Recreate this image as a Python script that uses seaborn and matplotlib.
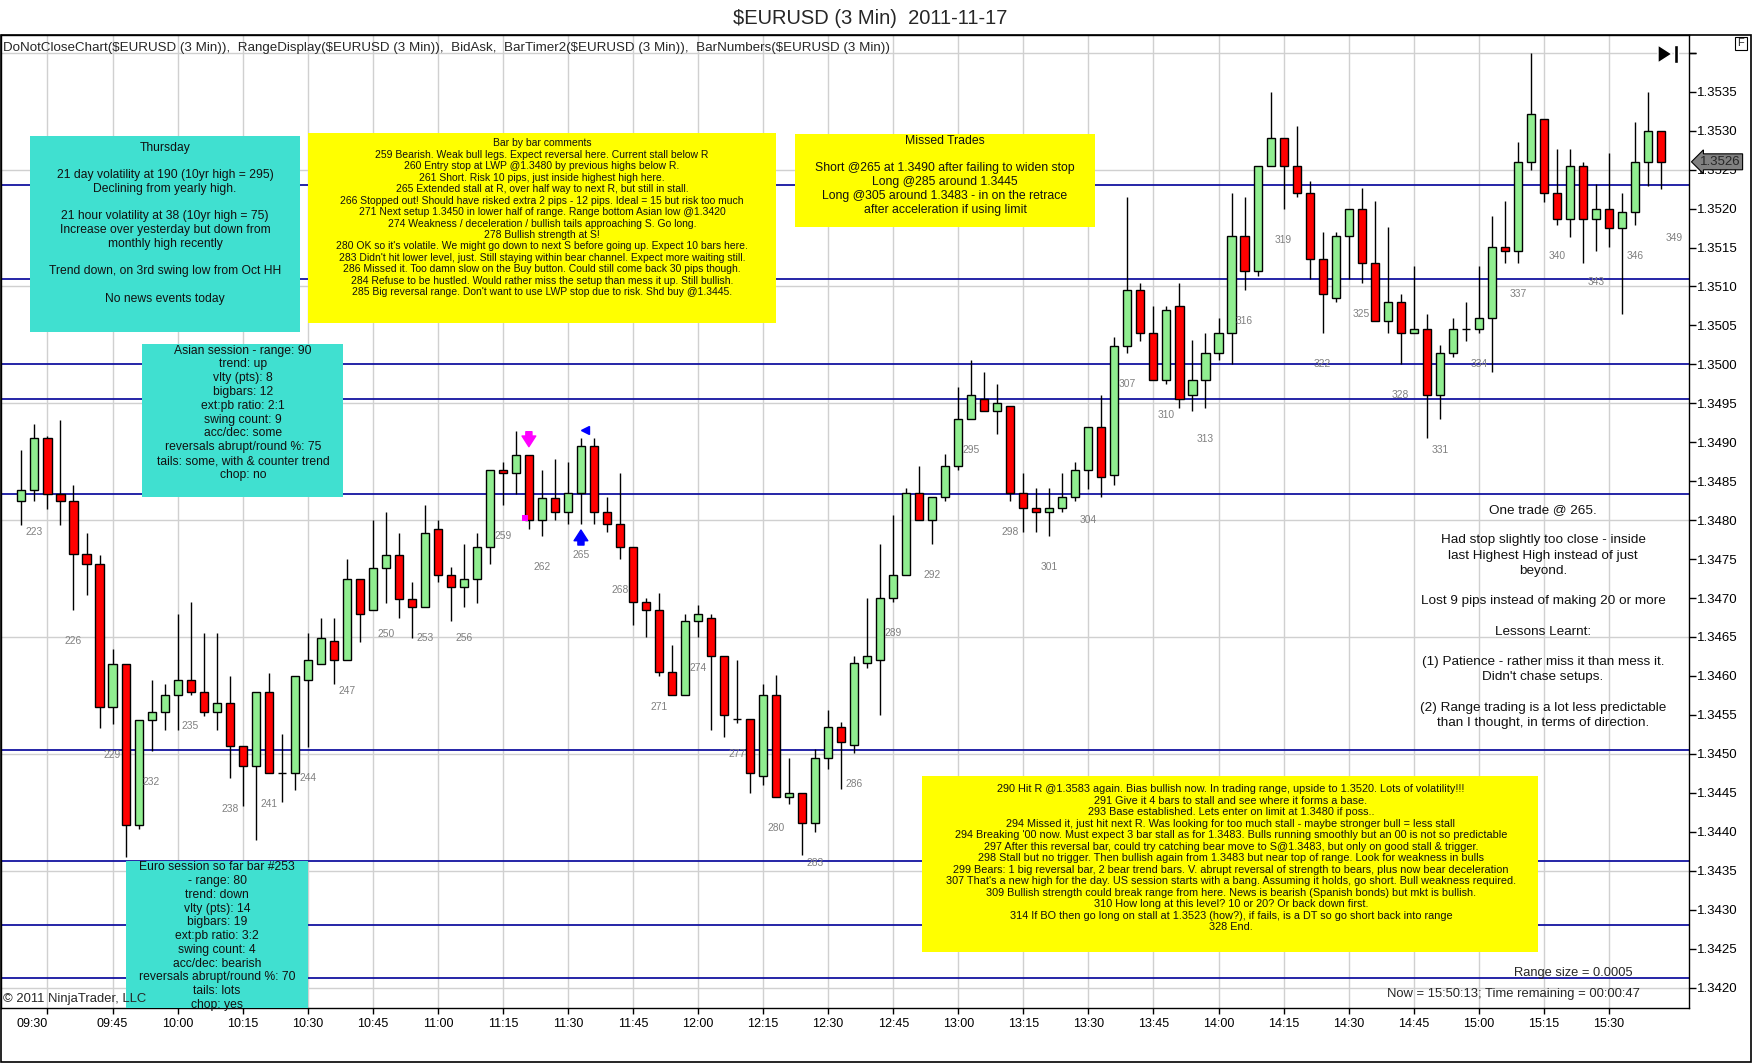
# plot.py
# NinjaTrader-style 3 min EURUSD candlestick chart with trading notes
# Requirements: seaborn, matplotlib, pandas, numpy

import numpy as np
import pandas as pd
import seaborn as sns
import matplotlib.pyplot as plt
from matplotlib.patches import Rectangle, Polygon
from matplotlib.transforms import blended_transform_factory, offset_copy

# ----- Bar data (bars 222..348) -----
bar_numbers = list(range(222, 349))

opens = [
    1.34824, 1.34839, 1.34905, 1.34834, 1.34824, 1.34757, 1.34744, 1.34560, 1.34615, 1.34409,
    1.34544, 1.34554, 1.34575, 1.34595, 1.34579, 1.34554, 1.34565, 1.34510, 1.34484, 1.34579,
    1.34475, 1.34475, 1.34595, 1.34615, 1.34645, 1.34620, 1.34724, 1.34684, 1.34739, 1.34755,
    1.34699, 1.34689, 1.34789, 1.34729, 1.34714, 1.34724, 1.34765, 1.34864, 1.34860, 1.34884,
    1.34800, 1.34829, 1.34811, 1.34835, 1.34895, 1.34811, 1.34795, 1.34766, 1.34695, 1.34685,
    1.34605, 1.34576, 1.34671, 1.34675, 1.34626, 1.34545, 1.34545, 1.34471, 1.34576, 1.34445,
    1.34450, 1.34411, 1.34495, 1.34535, 1.34511, 1.34616, 1.34621, 1.34700, 1.34730, 1.34835,
    1.34800, 1.34830, 1.34870, 1.34930, 1.34955, 1.34940, 1.34946, 1.34835, 1.34816, 1.34811,
    1.34816, 1.34830, 1.34865, 1.34920, 1.34858, 1.35024, 1.35096, 1.35040, 1.34980, 1.35075,
    1.34961, 1.34980, 1.35015, 1.35040, 1.35165, 1.35120, 1.35255, 1.35291, 1.35255, 1.35220,
    1.35135, 1.35085, 1.35165, 1.35200, 1.35130, 1.35056, 1.35080, 1.35040, 1.35046, 1.34961,
    1.35015, 1.35046, 1.35046, 1.35060, 1.35151, 1.35145, 1.35260, 1.35315, 1.35220, 1.35186,
    1.35254, 1.35186, 1.35200, 1.35175, 1.35196, 1.35260, 1.35299,
]
highs = [
    1.34890, 1.34924, 1.34908, 1.34929, 1.34845, 1.34784, 1.34755, 1.34634, 1.34615, 1.34544,
    1.34595, 1.34590, 1.34679, 1.34695, 1.34655, 1.34655, 1.34600, 1.34510, 1.34579, 1.34604,
    1.34526, 1.34600, 1.34655, 1.34674, 1.34674, 1.34750, 1.34724, 1.34800, 1.34810, 1.34784,
    1.34720, 1.34819, 1.34800, 1.34740, 1.34769, 1.34784, 1.34864, 1.34875, 1.34914, 1.34884,
    1.34864, 1.34879, 1.34875, 1.34906, 1.34906, 1.34830, 1.34861, 1.34766, 1.34700, 1.34706,
    1.34640, 1.34680, 1.34691, 1.34680, 1.34626, 1.34621, 1.34545, 1.34590, 1.34601, 1.34495,
    1.34450, 1.34506, 1.34556, 1.34541, 1.34626, 1.34700, 1.34770, 1.34806, 1.34841, 1.34870,
    1.34830, 1.34885, 1.34971, 1.35006, 1.34990, 1.34975, 1.34946, 1.34861, 1.34841, 1.34841,
    1.34861, 1.34875, 1.34920, 1.34961, 1.35035, 1.35215, 1.35105, 1.35075, 1.35075, 1.35105,
    1.35031, 1.35040, 1.35060, 1.35220, 1.35215, 1.35255, 1.35350, 1.35291, 1.35306, 1.35236,
    1.35170, 1.35170, 1.35200, 1.35226, 1.35210, 1.35176, 1.35090, 1.35126, 1.35065, 1.35025,
    1.35060, 1.35080, 1.35126, 1.35191, 1.35210, 1.35286, 1.35400, 1.35315, 1.35276, 1.35276,
    1.35260, 1.35231, 1.35271, 1.35220, 1.35311, 1.35350, 1.35299,
]
lows = [
    1.34794, 1.34824, 1.34814, 1.34794, 1.34684, 1.34704, 1.34533, 1.34538, 1.34367, 1.34404,
    1.34504, 1.34530, 1.34530, 1.34575, 1.34549, 1.34530, 1.34469, 1.34433, 1.34389, 1.34475,
    1.34438, 1.34454, 1.34509, 1.34615, 1.34589, 1.34620, 1.34644, 1.34684, 1.34694, 1.34674,
    1.34649, 1.34689, 1.34720, 1.34670, 1.34689, 1.34694, 1.34744, 1.34819, 1.34834, 1.34789,
    1.34780, 1.34800, 1.34795, 1.34795, 1.34795, 1.34785, 1.34750, 1.34665, 1.34650, 1.34600,
    1.34576, 1.34576, 1.34650, 1.34530, 1.34521, 1.34540, 1.34450, 1.34460, 1.34445, 1.34435,
    1.34370, 1.34400, 1.34481, 1.34455, 1.34501, 1.34610, 1.34550, 1.34695, 1.34730, 1.34800,
    1.34770, 1.34825, 1.34864, 1.34930, 1.34940, 1.34910, 1.34825, 1.34785, 1.34785, 1.34780,
    1.34811, 1.34825, 1.34840, 1.34830, 1.34845, 1.35015, 1.35030, 1.34980, 1.34975, 1.34944,
    1.34940, 1.34944, 1.35005, 1.35000, 1.35095, 1.35114, 1.35255, 1.35199, 1.35215, 1.35110,
    1.35040, 1.35080, 1.35110, 1.35105, 1.35056, 1.35040, 1.35000, 1.35040, 1.34906, 1.34930,
    1.35010, 1.35030, 1.35040, 1.34990, 1.35130, 1.35130, 1.35249, 1.35209, 1.35179, 1.35164,
    1.35130, 1.35145, 1.35151, 1.35064, 1.35179, 1.35229, 1.35225,
]
closes = [
    1.34839, 1.34905, 1.34834, 1.34824, 1.34757, 1.34744, 1.34560, 1.34615, 1.34409, 1.34544,
    1.34554, 1.34575, 1.34595, 1.34580, 1.34554, 1.34565, 1.34510, 1.34484, 1.34579, 1.34475,
    1.34475, 1.34600, 1.34620, 1.34649, 1.34620, 1.34724, 1.34679, 1.34739, 1.34755, 1.34699,
    1.34689, 1.34784, 1.34729, 1.34714, 1.34724, 1.34765, 1.34864, 1.34860, 1.34884, 1.34800,
    1.34829, 1.34810, 1.34835, 1.34895, 1.34811, 1.34795, 1.34766, 1.34695, 1.34685, 1.34605,
    1.34576, 1.34671, 1.34680, 1.34626, 1.34550, 1.34545, 1.34476, 1.34576, 1.34445, 1.34450,
    1.34411, 1.34495, 1.34535, 1.34515, 1.34616, 1.34626, 1.34700, 1.34730, 1.34835, 1.34800,
    1.34830, 1.34870, 1.34930, 1.34961, 1.34940, 1.34951, 1.34835, 1.34816, 1.34811, 1.34816,
    1.34830, 1.34865, 1.34920, 1.34856, 1.35024, 1.35096, 1.35040, 1.34980, 1.35070, 1.34956,
    1.34980, 1.35015, 1.35040, 1.35165, 1.35120, 1.35255, 1.35291, 1.35255, 1.35220, 1.35135,
    1.35090, 1.35165, 1.35200, 1.35130, 1.35056, 1.35080, 1.35040, 1.35046, 1.34961, 1.35015,
    1.35046, 1.35046, 1.35060, 1.35151, 1.35145, 1.35260, 1.35321, 1.35220, 1.35186, 1.35254,
    1.35186, 1.35200, 1.35175, 1.35196, 1.35260, 1.35299, 1.35260,
]

# support / resistance lines drawn by hand on the chart
levels = [1.3523, 1.3511, 1.3500, 1.34955, 1.34834, 1.34505, 1.34363, 1.3428, 1.34212]

# bar-number labels every 3 bars; 349 is the bar still forming (no candle yet)
label_bars = list(range(223, 347, 3))
forming_bar, forming_low = 349, 1.35202

# entry / exit signals
short_bar, long_bar = 261, 265

# axis ticks
tick_bars = list(range(224, 345, 5))
tick_labels = ["09:30", "09:45", "10:00", "10:15", "10:30", "10:45", "11:00", "11:15",
               "11:30", "11:45", "12:00", "12:15", "12:30", "12:45", "13:00", "13:15",
               "13:30", "13:45", "14:00", "14:15", "14:30", "14:45", "15:00", "15:15", "15:30"]
y_ticks = [round(1.3420 + 0.0005 * i, 4) for i in range(25)]
grid_prices = [round(1.3420 + 0.0015 * i, 4) for i in range(9)]

# ----- notes typed on the chart -----
notes_day = ["Thursday", "", "21 day volatility at 190 (10yr high = 295)", "Declining from yearly high.",
             "", "21 hour volatility at 38 (10yr high = 75)", "Increase over yesterday but down from",
             "monthly high recently", "", "Trend down, on 3rd swing low from Oct HH", "",
             "No news events today"]
notes_bars1 = [
    "Bar by bar comments",
    "259 Bearish. Weak bull legs. Expect reversal here. Current stall below R",
    "260 Entry stop at LWP @1.3480 by previous highs below R.",
    "261 Short. Risk 10 pips, just inside highest high here.",
    "265 Extended stall at R, over half way to next R, but still in stall.",
    "266 Stopped out! Should have risked extra 2 pips - 12 pips. Ideal = 15 but risk too much",
    "271 Next setup 1.3450 in lower half of range. Range bottom Asian low @1.3420",
    "274 Weakness / deceleration / bullish tails approaching S. Go long.",
    "278 Bullish strength at S!",
    "280 OK so it's volatile. We might go down to next S before going up. Expect 10 bars here.",
    "283 Didn't hit lower level, just. Still staying within bear channel. Expect more waiting still.",
    "286 Missed it. Too damn slow on the Buy button. Could still come back 30 pips though.",
    "284 Refuse to be hustled. Would rather miss the setup than mess it up. Still bullish.",
    "285 Big reversal range. Don't want to use LWP stop due to risk. Shd buy @1.3445.",
]
notes_missed = ["Missed Trades", "", "Short @265 at 1.3490 after failing to widen stop",
                "Long @285 around 1.3445", "Long @305 around 1.3483 - in on the retrace",
                "after acceleration if using limit"]
notes_asia = ["Asian session - range: 90", "trend: up", "vlty (pts): 8", "bigbars: 12",
              "ext:pb ratio: 2:1", "swing count: 9", "acc/dec: some",
              "reversals abrupt/round %: 75", "tails: some, with & counter trend", "chop: no"]
notes_euro = ["Euro session so far bar #253", "- range: 80", "trend: down", "vlty (pts): 14",
              "bigbars: 19", "ext:pb ratio: 3:2", "swing count: 4", "acc/dec: bearish",
              "reversals abrupt/round %: 70", "tails: lots", "chop: yes"]
notes_bars2 = [
    "290 Hit R @1.3583 again. Bias bullish now. In trading range, upside to 1.3520. Lots of volatility!!!",
    "291 Give it 4 bars to stall and see where it forms a base.",
    "293 Base established. Lets enter on limit at 1.3480 if poss..",
    "294 Missed it, just hit next R. Was looking for too much stall - maybe stronger bull = less stall",
    "294 Breaking '00 now. Must expect 3 bar stall as for 1.3483. Bulls running smoothly but an 00 is not so predictable",
    "297 After this reversal bar, could try catching bear move to S@1.3483, but only on good stall & trigger.",
    "298 Stall but no trigger. Then bullish again from 1.3483 but near top of range. Look for weakness in bulls",
    "299 Bears: 1 big reversal bar, 2 bear trend bars. V. abrupt reversal of strength to bears, plus now bear deceleration",
    "307 That's a new high for the day. US session starts with a bang. Assuming it holds, go short. Bull weakness required.",
    "309 Bullish strength could break range from here. News is bearish (Spanish bonds) but mkt is bullish.",
    "310 How long at this level? 10 or 20? Or back down first.",
    "314 If BO then go long on stall at 1.3523 (how?), if fails, is a DT so go short back into range",
    "328 End.",
]
notes_summary = ["One trade @ 265.", "", "Had stop slightly too close - inside",
                 "last Highest High instead of just", "beyond.", "",
                 "Lost 9 pips instead of making 20 or more", "", "Lessons Learnt:", "",
                 "(1) Patience - rather miss it than mess it.", "Didn't chase setups.", "",
                 "(2) Range trading is a lot less predictable", "than I thought, in terms of direction."]

df = pd.DataFrame({"bar": bar_numbers, "open": opens, "high": highs,
                   "low": lows, "close": closes})
df["up"] = df["close"] >= df["open"]
df = df.set_index("bar", drop=False)

# ----- styling -----
sns.set_style("white")
plt.rcParams["font.family"] = ["Liberation Sans", "DejaVu Sans"]

GREEN, RED = "#90EE90", "#FF0000"
CYAN, YELLOW = "#40E0D0", "#FFFF00"
LEVEL, GRID = "#1414A0", "#D0D0D0"

W, H = 1752, 1064
fig = plt.figure(figsize=(W / 100, H / 100), dpi=100)

# price panel in pixel layout
AX_L, AX_R, AX_T, AX_B = 0.5, 1689, 35, 1008
ax = fig.add_axes([AX_L / W, 1 - AX_B / H, (AX_R - AX_L) / W, (AX_B - AX_T) / H])
ax.set_xlim(220.39, 350.16)
ax.set_ylim(1.341737, 1.354228)

for g in grid_prices:
    ax.axhline(g, color=GRID, lw=1, zorder=0)
for b in tick_bars:
    ax.axvline(b, color=GRID, lw=1, zorder=0)
for lv in levels:
    ax.axhline(lv, color=LEVEL, lw=1.3, zorder=1)

# candles: wicks + bodies
ax.vlines(df["bar"], df["low"], df["high"], color="black", lw=1, zorder=3)
ax.bar(df["bar"], (df["close"] - df["open"]).abs(),
       bottom=df[["open", "close"]].min(axis=1), width=0.62,
       color=np.where(df["up"], GREEN, RED), edgecolor="black", linewidth=1, zorder=4)

# bar numbers under the lows
for b in label_bars:
    ax.annotate(str(b), xy=(b, df.loc[b, "low"]), xytext=(0, -31), textcoords="offset pixels",
                ha="center", va="center", fontsize=7.4, color="#808080", zorder=5)
ax.annotate(str(forming_bar), xy=(forming_bar, forming_low), xytext=(0, -31),
            textcoords="offset pixels", ha="center", va="center", fontsize=7.4, color="#808080")

# signals
px = ax.bbox.height / (ax.get_ylim()[1] - ax.get_ylim()[0])
h_s = df.loc[short_bar, "high"]
ax.annotate("", xy=(short_bar, h_s + 8 / px), xytext=(short_bar, h_s + 23 / px),
            arrowprops=dict(arrowstyle="simple,head_width=0.9,head_length=0.7,tail_width=0.4",
                            fc="#FF00FF", ec="#FF00FF", mutation_scale=11, shrinkA=0, shrinkB=0),
            zorder=6)
sns.scatterplot(x=[short_bar - 0.3], y=[df.loc[short_bar, "close"] + 2 / px], marker="s",
                s=18, color="#FF00FF", edgecolor="none", ax=ax, zorder=6, legend=False)
l_l = df.loc[long_bar, "low"]
h_l = df.loc[long_bar, "high"]
ax.annotate("", xy=(long_bar, l_l - 6 / px), xytext=(long_bar, l_l - 21 / px),
            arrowprops=dict(arrowstyle="simple,head_width=0.9,head_length=0.7,tail_width=0.4",
                            fc="#0000FF", ec="#0000FF", mutation_scale=11, shrinkA=0, shrinkB=0),
            zorder=6)
ax.plot([long_bar + 0.3], [h_l + 8 / px], marker="<", ms=6, color="#0000FF", zorder=6)

# axes, ticks
for sp in ax.spines.values():
    sp.set_color("black")
    sp.set_linewidth(1)
ax.set_xticks(tick_bars)
ax.set_xticklabels(tick_labels)
ax.get_xticklabels()[0].set_ha("right")
ax.yaxis.tick_right()
ax.set_yticks(y_ticks + [1.3540])
ax.set_yticklabels([f"{v:.4f}" for v in y_ticks] + [""])
ax.tick_params(axis="y", direction="out", length=5, width=1, pad=1, labelsize=9.5,
               colors="black")
ax.tick_params(axis="x", direction="out", length=4, width=1, pad=3, labelsize=9,
               colors="black", bottom=True)
ax.set_xlabel("")
ax.set_ylabel("")

# current price tag
cur = df["close"].iloc[-1]
tag_tr = offset_copy(blended_transform_factory(ax.transAxes, ax.transData), fig=fig,
                     x=11, y=0, units="dots")
ax.text(1.0, cur, f"{cur:.4f}", transform=tag_tr, ha="left", va="center", fontsize=9.5,
        bbox=dict(boxstyle="larrow,pad=0.15", fc="#808080", ec="black", lw=0.8),
        clip_on=False, zorder=10)

# ----- overlay in pixel coordinates for the notes -----
ov = fig.add_axes([0, 0, 1, 1], zorder=10)
ov.set_xlim(0, W)
ov.set_ylim(H, 0)
ov.axis("off")
ov.patch.set_visible(False)


def box(x0, y0, x1, y1, color):
    r = Rectangle((x0, y0), x1 - x0, y1 - y0, fc=color, ec="none", zorder=2)
    ov.add_patch(r)
    return r


def note(lines, cx, y0, step, size, clip=None):
    for i, s in enumerate(lines):
        if not s:
            continue
        t = ov.text(cx, y0 + i * step, s, ha="center", va="center", fontsize=size,
                    color="#111111", zorder=3, parse_math=False)
        if clip is not None:
            t.set_clip_path(clip)


box(30, 136, 300, 332, CYAN)
note(notes_day, 165, 147.7, 13.75, 8.7)
box(308, 133, 776, 323, YELLOW)
note(notes_bars1, 542, 143.3, 11.46, 7.45)
box(795, 134, 1095, 227, YELLOW)
note(notes_missed, 945, 140.7, 13.9, 8.8)
box(142, 344, 343, 497, CYAN)
note(notes_asia, 243, 350.7, 13.8, 8.7)
euro = box(126, 861, 308, AX_B, CYAN)
note(notes_euro, 217, 867.3, 13.77, 8.7, clip=euro)
box(922, 776, 1538, 952, YELLOW)
note(notes_bars2, 1231, 789.3, 11.5, 7.8)
note(notes_summary, 1543, 510, 15.2, 9.7)

ov.text(1633, 973, "Range size = 0.0005", ha="right", va="center", fontsize=9.3, zorder=3)
ov.text(1640, 994, "Now = 15:50:13; Time remaining = 00:00:47", ha="right", va="center",
        fontsize=9.4, zorder=3)
ov.text(3, 999, "\u00a9 2011 NinjaTrader, LLC", ha="left", va="center", fontsize=9.4, zorder=4)
ov.text(3, 48, "DoNotCloseChart($EURUSD (3 Min)),  RangeDisplay($EURUSD (3 Min)),  BidAsk,  "
        "BarTimer2($EURUSD (3 Min)),  BarNumbers($EURUSD (3 Min))",
        ha="left", va="center", fontsize=9.6, zorder=3, parse_math=False)
ov.text(870, 18, "$EURUSD (3 Min)  2011-11-17", ha="center", va="center", fontsize=14.5,
        parse_math=False)

# frame and small chart controls
ov.add_patch(Rectangle((0.5, 35), 1750, 1027, fill=False, ec="black", lw=1.2, zorder=5))
ov.add_patch(Rectangle((1735, 37), 12, 13, fill=False, ec="black", lw=0.8, zorder=5))
ov.text(1741, 43.5, "F", ha="center", va="center", fontsize=8, zorder=5)
ov.add_patch(Polygon([(1658, 45), (1658, 63), (1672, 54)], closed=True, fc="black", zorder=5))
ov.add_patch(Rectangle((1674, 45), 4, 18, fc="black", zorder=5))

fig.savefig("out.png", dpi=100)
